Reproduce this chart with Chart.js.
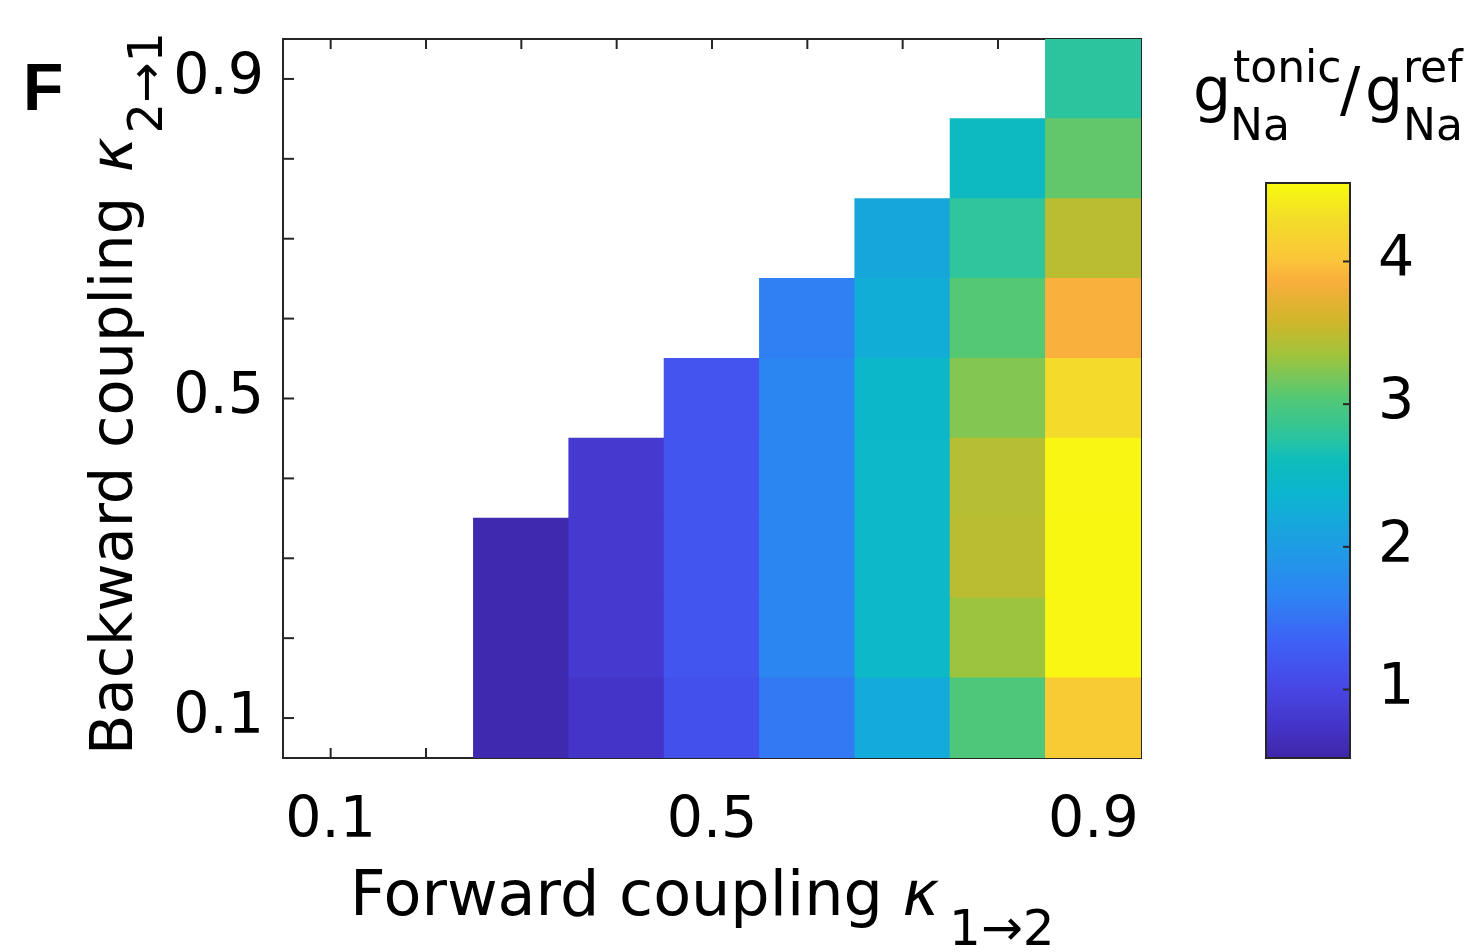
<!DOCTYPE html>
<html>
<head>
<meta charset="utf-8">
<script src="https://cdn.jsdelivr.net/npm/chart.js@4.4.1/dist/chart.umd.min.js"></script>
<style>
  html, body { margin: 0; padding: 0; background: #fff; }
  #wrap { position: relative; width: 1474px; height: 952px; overflow: hidden; }
  #wrap canvas { position: absolute; left: 0; top: 0; }
  .lbl { position: absolute; white-space: nowrap; line-height: 1; color: #000; font-family: 'DejaVu Sans', sans-serif; }
</style>
</head>
<body>
<div id="wrap">
  <canvas id="heat"></canvas>
  <div id="cbWrap" style="position:absolute;left:0;top:0;width:1474px;height:952px;pointer-events:none">
    <canvas id="cbar"></canvas>
  </div>
</div>
<script>
// forward coupling (columns) and backward coupling (rows)
const kForward = ['0.1', '0.2', '0.3', '0.4', '0.5', '0.6', '0.7', '0.8', '0.9'];
const kBackward = [0.1, 0.2, 0.3, 0.4, 0.5, 0.6, 0.7, 0.8, 0.9];
const xTickLabels = ['0.1', '', '', '', '0.5', '', '', '', '0.9'];
const yTickLabels = ['0.1', '', '', '', '0.5', '', '', '', '0.9'];

// g_Na tonic / g_Na ref, one array per backward coupling value (null = no tonic firing)
const back01 = [null, null, 0.56, 0.74, 1.13, 1.56, 2.21, 3.01, 4.09];
const back02 = [null, null, 0.57, 0.82, 1.20, 1.68, 2.45, 3.33, 4.51];
const back03 = [null, null, 0.57, 0.82, 1.20, 1.68, 2.45, 3.47, 4.52];
const back04 = [null, null, null, 0.81, 1.20, 1.68, 2.45, 3.45, 4.51];
const back05 = [null, null, null, null, 1.19, 1.68, 2.44, 3.23, 4.26];
const back06 = [null, null, null, null, null, 1.62, 2.25, 3.05, 3.88];
const back07 = [null, null, null, null, null, null, 2.15, 2.80, 3.47];
const back08 = [null, null, null, null, null, null, null, 2.54, 3.10];
const back09 = [null, null, null, null, null, null, null, null, 2.77];
const rows = [back01, back02, back03, back04, back05, back06, back07, back08, back09];

// colour bar
const cbMin = 0.52;
const cbMax = 4.55;
const cbTicks = [1, 2, 3, 4];

// parula-like colour map
const cmapStops = [0, 0.055, 0.124, 0.20, 0.288, 0.375, 0.46, 0.52, 0.553, 0.628, 0.70, 0.76, 0.83, 0.864, 0.94, 1];
const cmapColors = ['#3E26A8', '#4434C8', '#4747E5', '#3F60F6', '#2C86F2', '#1D9EE3', '#0CB5D0', '#0FBDBA',
  '#28C4A2', '#55C874', '#A0C43C', '#D0B62A', '#F9AE3C', '#FBC43A', '#F2DE28', '#F9FB0E'];

const axisColor = '#262626';
const tickFont = { family: 'DejaVu Sans', size: 57 };

function hexToRgb(h) {
  return [parseInt(h.substr(1, 2), 16), parseInt(h.substr(3, 2), 16), parseInt(h.substr(5, 2), 16)];
}

function colorFor(v) {
  let t = (v - cbMin) / (cbMax - cbMin);
  t = Math.max(0, Math.min(1, t));
  for (let i = 1; i < cmapStops.length; i++) {
    if (t <= cmapStops[i]) {
      let f = (t - cmapStops[i - 1]) / (cmapStops[i] - cmapStops[i - 1]);
      let a = hexToRgb(cmapColors[i - 1]);
      let b = hexToRgb(cmapColors[i]);
      let c = a.map((x, k) => Math.round(x + (b[k] - x) * f));
      return `rgb(${c[0]},${c[1]},${c[2]})`;
    }
  }
  return cmapColors[cmapColors.length - 1];
}

function line(ctx, x1, y1, x2, y2) {
  ctx.beginPath();
  ctx.moveTo(x1, y1);
  ctx.lineTo(x2, y2);
  ctx.stroke();
}

// box + inward ticks, drawn under the cells like matlab does
const boxPlugin = {
  id: 'boxPlugin',
  beforeDatasetsDraw(chart) {
    let { ctx, chartArea, scales } = chart;
    let a = chartArea;
    ctx.save();
    ctx.strokeStyle = axisColor;
    ctx.lineWidth = 2;
    ctx.strokeRect(a.left, a.top, a.right - a.left, a.bottom - a.top);
    scales.x.ticks.forEach((t, i) => {
      let px = scales.x.getPixelForTick(i);
      line(ctx, px, a.bottom, px, a.bottom - 10);
      line(ctx, px, a.top, px, a.top + 10);
    });
    scales.y.ticks.forEach((t, i) => {
      let py = scales.y.getPixelForTick(i);
      line(ctx, a.left, py, a.left + 11, py);
      line(ctx, a.right, py, a.right - 11, py);
    });
    ctx.restore();
  }
};

const datasets = rows.map((row, r) => ({
  label: 'k21 = ' + kBackward[r],
  data: row.map(v => v === null ? null : [kBackward[r] - 0.05, kBackward[r] + 0.05]),
  backgroundColor: row.map(v => v === null ? 'rgba(0,0,0,0)' : colorFor(v)),
  borderWidth: 0,
  inflateAmount: 0.6,
  barPercentage: 1,
  categoryPercentage: 1,
  grouped: false
}));

new Chart(document.getElementById('heat'), {
  type: 'bar',
  data: { labels: kForward, datasets: datasets },
  options: {
    responsive: true,
    maintainAspectRatio: false,
    animation: false,
    layout: { padding: { left: 0, top: 39, right: 333, bottom: 0 } },
    plugins: { legend: { display: false }, tooltip: { enabled: false } },
    scales: {
      x: {
        type: 'category',
        offset: true,
        grid: { display: false, drawTicks: false },
        border: { display: false },
        ticks: {
          autoSkip: false,
          maxRotation: 0,
          padding: 30,
          color: '#000',
          font: tickFont,
          callback: (v, i) => xTickLabels[i]
        },
        afterFit: s => { s.height = 194; s.paddingLeft = 0; s.paddingRight = 0; }
      },
      y: {
        type: 'linear',
        min: 0.05,
        max: 0.95,
        grid: { display: false, drawTicks: false },
        border: { display: false },
        afterBuildTicks: s => { s.ticks = kBackward.map(v => ({ value: v })); },
        ticks: {
          padding: 19,
          color: '#000',
          font: tickFont,
          callback: (v, i) => yTickLabels[i]
        },
        afterFit: s => { s.width = 283; s.paddingTop = 0; s.paddingBottom = 0; }
      }
    }
  },
  plugins: [boxPlugin]
});

// colour bar frame and ticks
const cbPlugin = {
  id: 'cbPlugin',
  afterDatasetsDraw(chart) {
    let { ctx, chartArea, scales } = chart;
    let a = chartArea;
    ctx.save();
    ctx.strokeStyle = axisColor;
    ctx.lineWidth = 2;
    ctx.strokeRect(a.left, a.top, a.right - a.left, a.bottom - a.top);
    scales.y.ticks.forEach((t, i) => {
      let py = scales.y.getPixelForTick(i);
      line(ctx, a.right, py, a.right - 7, py);
    });
    ctx.restore();
  }
};

new Chart(document.getElementById('cbar'), {
  type: 'bar',
  data: {
    labels: ['cb'],
    datasets: [{
      data: [[cbMin, cbMax]],
      backgroundColor: c => {
        let ch = c.chart;
        if (!ch.chartArea) return cmapColors[0];
        let y = ch.scales.y;
        let g = ch.ctx.createLinearGradient(0, y.getPixelForValue(cbMin), 0, y.getPixelForValue(cbMax));
        cmapStops.forEach((s, i) => g.addColorStop(s, cmapColors[i]));
        return g;
      },
      borderWidth: 0,
      barPercentage: 1,
      categoryPercentage: 1
    }]
  },
  options: {
    responsive: true,
    maintainAspectRatio: false,
    animation: false,
    layout: { padding: { left: 1266, top: 183, right: 0, bottom: 194 } },
    plugins: { legend: { display: false }, tooltip: { enabled: false } },
    scales: {
      x: { display: false, offset: true },
      y: {
        type: 'linear',
        position: 'right',
        min: cbMin,
        max: cbMax,
        grid: { display: false, drawTicks: false },
        border: { display: false },
        afterBuildTicks: s => { s.ticks = cbTicks.map(v => ({ value: v })); },
        ticks: { padding: 28, color: '#000', font: tickFont },
        afterFit: s => { s.width = 124; s.paddingTop = 0; s.paddingBottom = 0; }
      }
    }
  },
  plugins: [cbPlugin]
});

// text with sub/superscripts as html, placed by baseline
function addText(txt, x, baseline, size, extra) {
  let d = document.createElement('div');
  d.className = 'lbl';
  d.style.left = x + 'px';
  d.style.top = (baseline - size * 0.846) + 'px';
  d.style.fontSize = size + 'px';
  if (extra) Object.assign(d.style, extra);
  d.innerHTML = txt;
  document.getElementById('wrap').appendChild(d);
  return d;
}

addText('Forward coupling <i>κ</i><span style="font-size:50px;position:relative;top:30px;margin-left:10px">1→2</span>', 350, 915, 62);

let yt = addText('Backward coupling <i style="margin-left:6px">κ</i><span style="font-size:48px;position:relative;top:30px;margin-left:4px">2→1</span>', 0, 0, 59,
  { transformOrigin: '0 0', transform: 'rotate(-90deg)' });
yt.style.left = (132 - 59 * 0.846) + 'px';
yt.style.top = '755px';

addText('F', 23, 110, 66, { fontFamily: "'Liberation Sans', Arial, sans-serif", fontWeight: 'bold' });

addText('g', 1193, 110, 60);
addText('tonic', 1233, 82, 44);
addText('Na', 1230, 140, 44);
addText('/', 1340, 110, 60);
addText('g', 1365, 110, 60);
addText('ref', 1403, 82, 44);
addText('Na', 1403, 140, 44);
</script>
</body>
</html>
